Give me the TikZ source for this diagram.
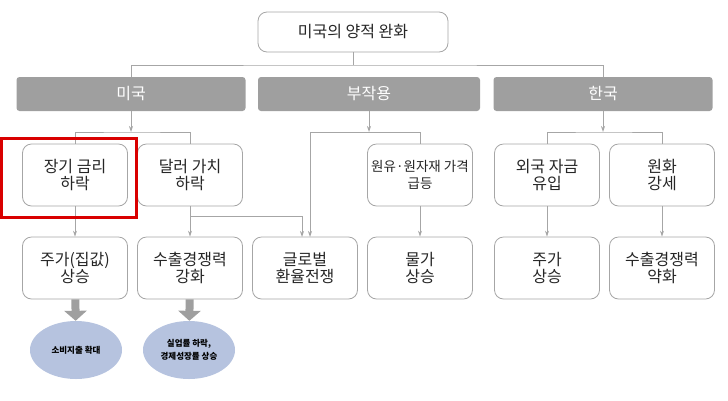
\documentclass[tikz,border=0pt]{standalone}
\usepackage{fontspec}
\setmainfont{Noto Sans CJK KR}
\usetikzlibrary{arrows.meta,shapes.geometric}
\begin{document}
\begin{tikzpicture}[x=1pt,y=-1pt,
    caja/.style={draw=gray!70,thick,rounded corners=9pt,fill=white,align=center,text=black!85,
      minimum width=105pt,minimum height=62pt,inner sep=0pt,font=\fontsize{16}{17}\selectfont},
    barra/.style={fill=gray!75,rounded corners=3pt,text=white,minimum height=34pt,
      inner sep=0pt,font=\fontsize{16}{17}\selectfont},
    globo/.style={ellipse,fill=azul,minimum width=92pt,minimum height=58pt,inner sep=0pt,
      align=center,font=\fontsize{8.5}{13}\selectfont\bfseries},
    flecha/.style={gray!70,thick,-{Stealth[length=6pt,width=4pt]}},
    linea/.style={gray!70,thick},
    gorda/.style={gray!75,line width=8pt,-{Triangle[length=10pt,width=22pt]}}]
        %colores
        \definecolor{azul}{HTML}{B6C3DF}
        \useasboundingbox (0,0) rectangle (728,400);

        % Titulo y barras
        \node[caja,minimum width=190pt,minimum height=40pt] (titulo) at (353,32) {미국의 양적 완화};
        \node[barra,minimum width=229pt] (usa) at (131,94) {미국};
        \node[barra,minimum width=222pt] (efecto) at (369,94) {부작용};
        \node[barra,minimum width=219pt] (corea) at (603,94) {한국};
        \draw[linea] (titulo) -- (353,65) coordinate (j0);
        \draw[linea] (usa.north) |- (j0) -| (corea.north);

        % Fila 2
        \node[caja] (tasa) at (75,175) {장기 금리\\하락};
        \node[caja] (dolar) at (190,175) {달러 가치\\하락};
        \node[caja,font=\fontsize{13.5}{17}\selectfont] (crudo) at (420,175) {원유·원자재 가격\\급등};
        \node[caja] (fondos) at (547,175) {외국 자금\\유입};
        \node[caja] (won) at (662,175) {원화\\강세};

        % Fila 3
        \node[caja] (acciones) at (75,268) {주가(집값)\\상승};
        \node[caja] (export) at (190,268) {수출경쟁력\\강화};
        \node[caja] (global) at (305,268) {글로벌\\환율전쟁};
        \node[caja] (precios) at (420,268) {물가\\상승};
        \node[caja] (bolsa) at (547,268) {주가\\상승};
        \node[caja] (debil) at (662,268) {수출경쟁력\\약화};

        % Conexiones
        \draw[flecha] (usa) -- (131,132) coordinate (j1);
        \draw[linea] (tasa.north) |- (j1) -| (dolar.north);
        \draw[flecha] (efecto) -- (369,132) coordinate (j2);
        \draw[linea] (310,132) -- (crudo.north|-j2) -- (crudo.north);
        \draw[flecha] (310,132) -- (310,237);
        \draw[flecha] (corea) -- (603,132) coordinate (j3);
        \draw[linea] (fondos.north) |- (j3) -| (won.north);
        \draw[flecha] (tasa) -- (acciones);
        \draw[flecha] (dolar) -- (export);
        \draw[flecha] (dolar.south) ++(0,10) -| (302,237);
        \draw[flecha] (crudo) -- (precios);
        \draw[flecha] (fondos) -- (bolsa);
        \draw[flecha] (won) -- (debil);

        % Globos
        \node[globo] (consumo) at (76,350) {소비지출 확대};
        \node[globo] (empleo) at (189,350) {실업률 하락,\\경제성장률 상승};
        \draw[gorda] (acciones) -- (consumo);
        \draw[gorda] (export) -- (empleo);

        % Marco rojo
        \draw[red!85!black,line width=3pt] (1.5,138) rectangle (136,217);
    \end{tikzpicture}
\end{document}
